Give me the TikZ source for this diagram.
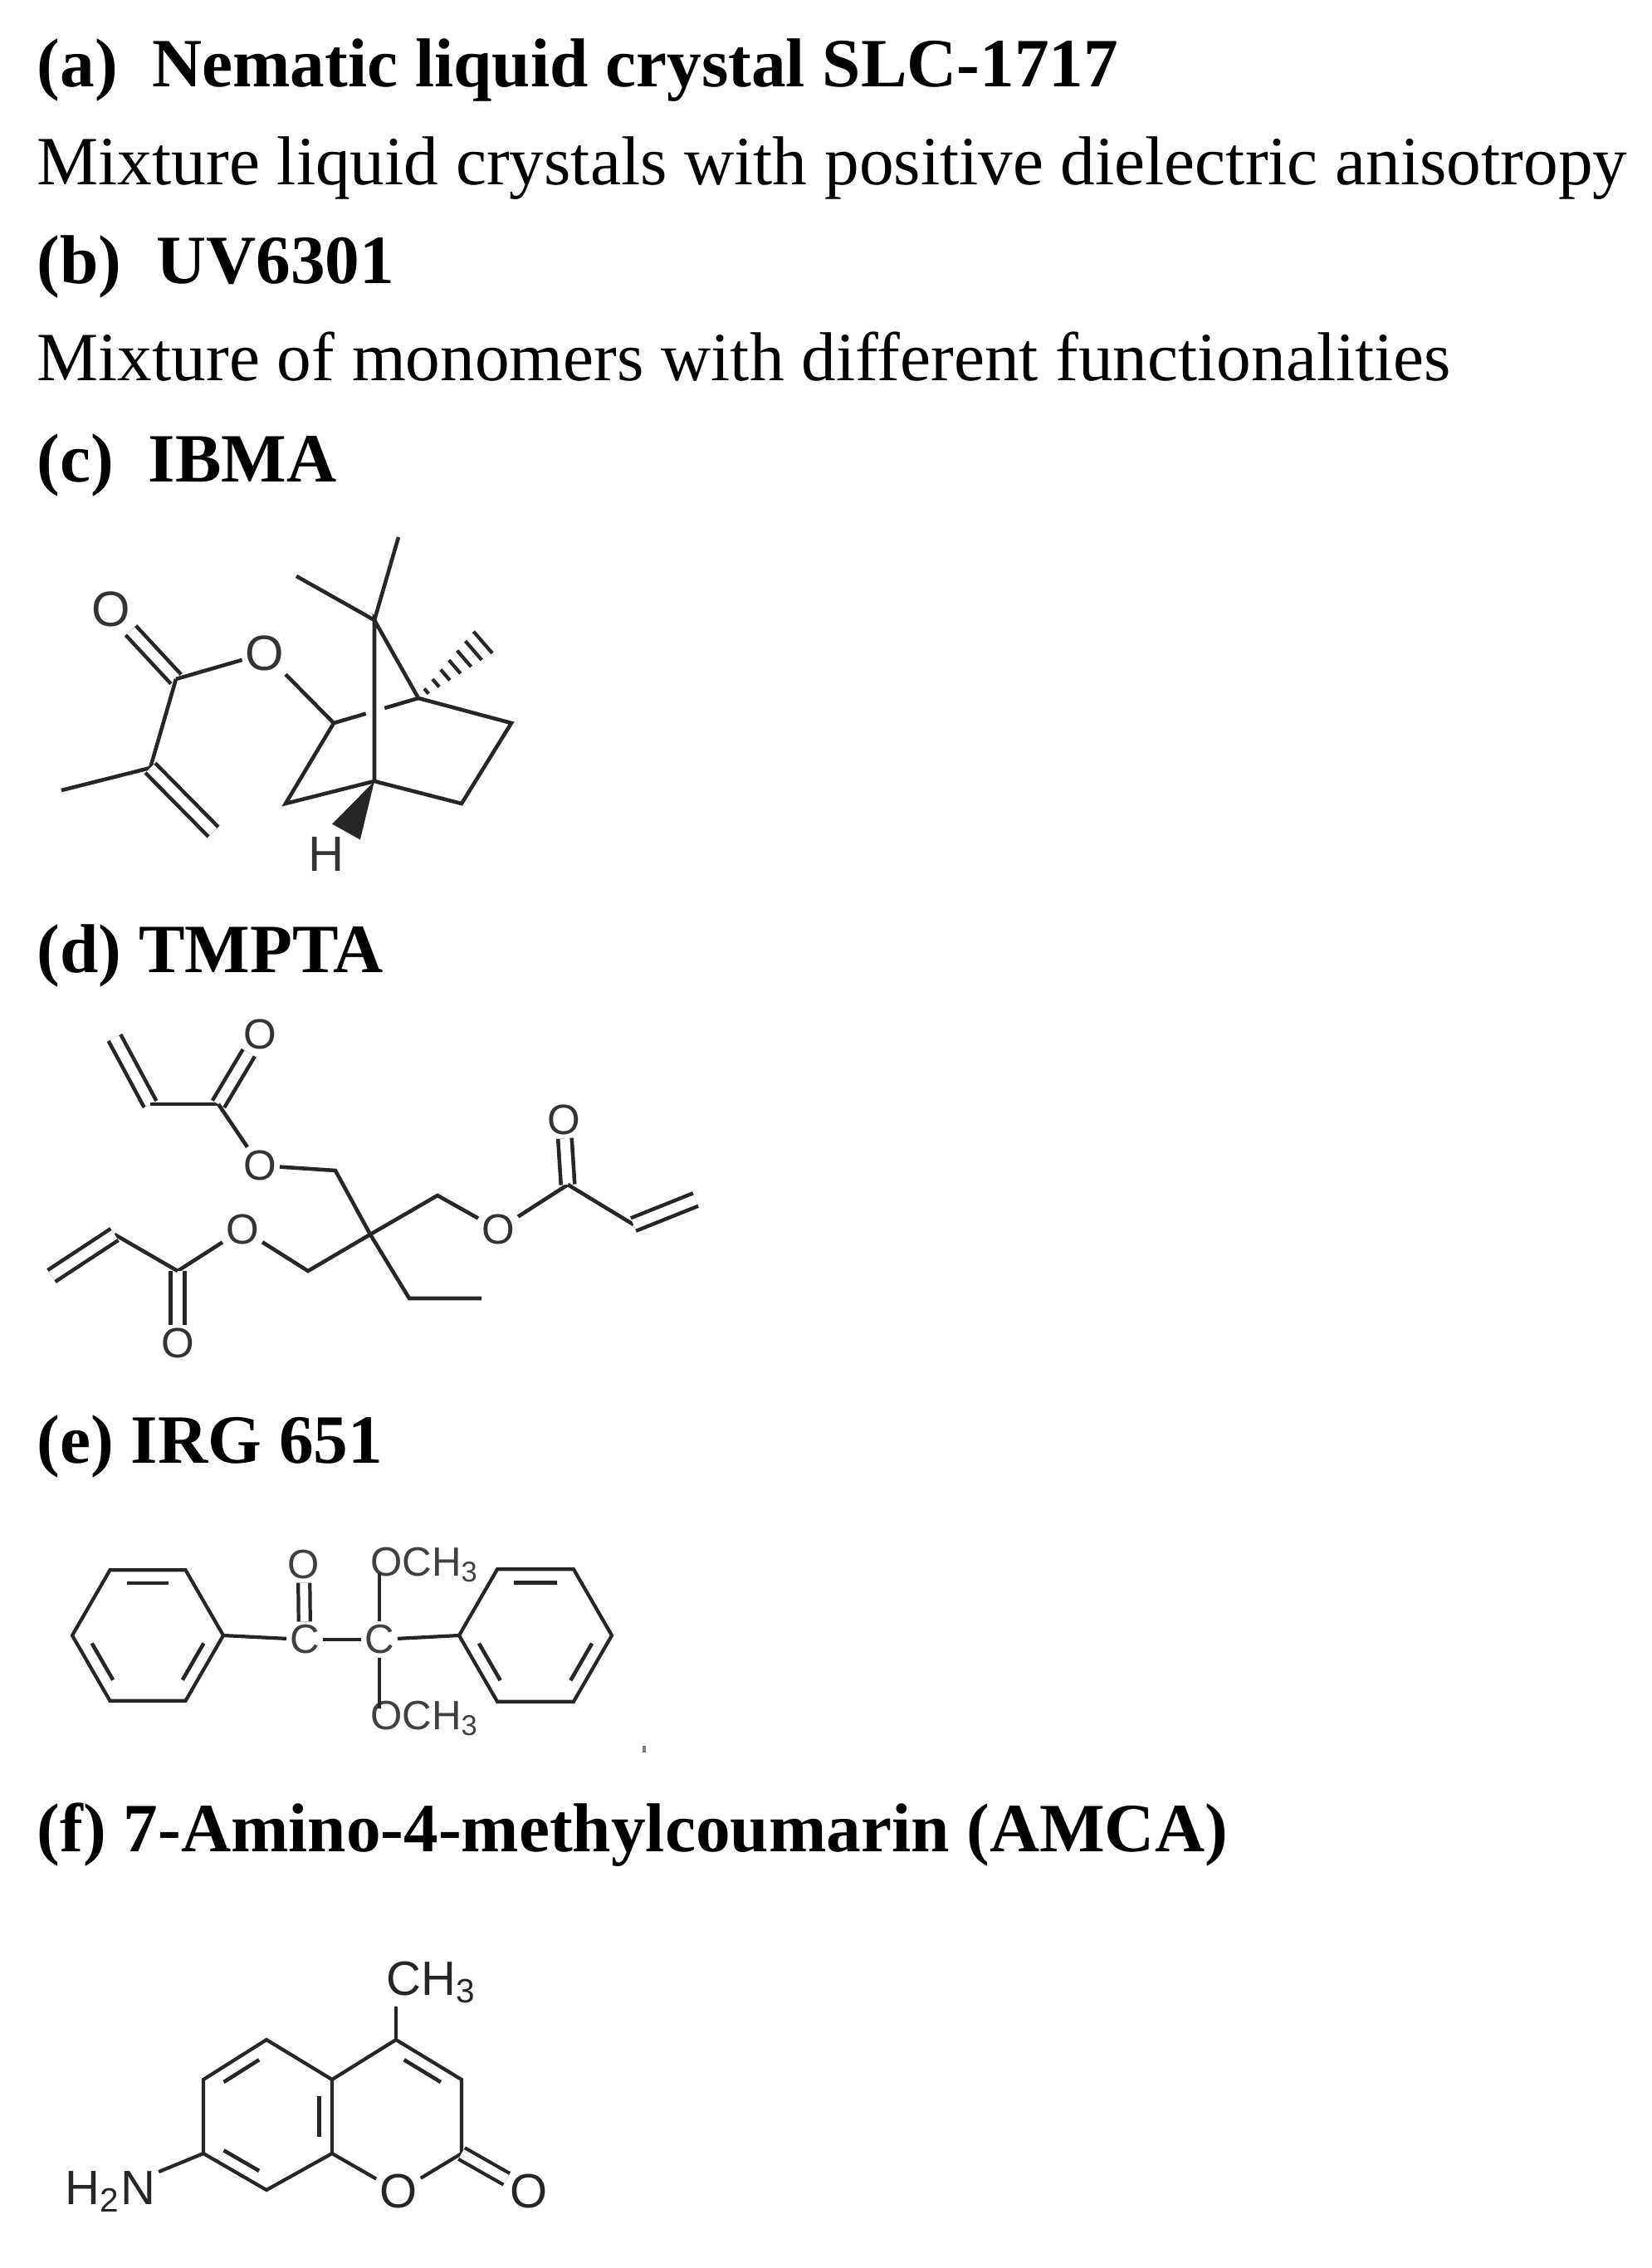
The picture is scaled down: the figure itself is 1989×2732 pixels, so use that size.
\documentclass[tikz,border=0pt]{standalone}
\usepackage{fontspec}
\setmainfont{Liberation Serif}
\setsansfont{Liberation Sans}
\usetikzlibrary{calc}
\tikzset{
  bond/.style={line width=1.3pt, draw=black!85},
  dbl/.style={bond, double=white, double distance=3.4pt},
  ttl/.style={anchor=base west, inner sep=0pt, font=\fontsize{23.7}{28}\selectfont\bfseries},
  txt/.style={anchor=base west, inner sep=0pt, font=\fontsize{23.7}{28}\selectfont},
  atomA/.style={inner sep=1pt, text=black!80, font=\sffamily\fontsize{17}{17}\selectfont},
  atomB/.style={inner sep=1pt, text=black!80, font=\sffamily\fontsize{14.5}{14.5}\selectfont},
  atomC/.style={inner sep=1pt, text=black!75, font=\sffamily\fontsize{14}{14}\selectfont},
  atomD/.style={inner sep=1pt, text=black!85, font=\sffamily\fontsize{16.5}{16.5}\selectfont}
}
\newcommand{\ib}[3]{\draw[bond] ($(#1)!0.15!(#2)!0.2!(#3)$) -- ($(#2)!0.15!(#1)!0.2!(#3)$);}
\begin{document}
\begin{tikzpicture}[x=0.1mm,y=-0.1mm]
\useasboundingbox (0,0) rectangle (1989,2732);
% titles
\node[ttl] (ta) at (44,105) {(a)\ \ Nematic liquid crystal SLC-1717};
\node[txt] (la) at (44,223) {Mixture liquid crystals with positive dielectric anisotropy};
\node[ttl] (tb) at (44,342) {(b)\ \ UV6301};
\node[txt] (lb) at (44,459) {Mixture of monomers with different functionalities};
\node[ttl] (tc) at (44,581) {(c)\ \ IBMA};
\node[ttl] (td) at (44,1171) {(d) TMPTA};
\node[ttl] (te) at (44,1762) {(e) IRG 651};
\node[ttl] (tf) at (44,2230) {(f) 7-Amino-4-methylcoumarin (AMCA)};

% ---------- IBMA ----------
\node[atomA] (iO1) at (134,734) {O};
\node[atomA] (iO2) at (319,787) {O};
\node[atomA] (iH) at (393,1029) {H};
\coordinate (iCc) at (212,818);
\coordinate (iCa) at (181,925);
\coordinate (iMe) at (74,952);
\coordinate (iCH2) at (257,1002);
\coordinate (iC2) at (402,871);
\coordinate (iC7) at (451,747);
\coordinate (iM1) at (480,647);
\coordinate (iM2) at (357,694);
\coordinate (iC1) at (504,841);
\coordinate (iMh) at (585,771);
\coordinate (iC4) at (451,941);
\coordinate (iC3) at (344,968);
\coordinate (iC6) at (616,871);
\coordinate (iC5) at (556,968);
\coordinate (iW) at (417,1002);
\draw[dbl] (iCc) -- (iO1);
\draw[bond] (iCc) -- (iO2);
\draw[bond] (iO2) -- (iC2);
\draw[bond] (iCc) -- (iCa);
\draw[bond] (iCa) -- (iMe);
\draw[dbl] (iCa) -- (iCH2);
\draw[bond] (iC2) -- (iC3) -- (iC4) -- (iC5) -- (iC6) -- (iC1) -- (iC7) -- (iC4);
\draw[bond] (iC7) -- (iM1);
\draw[bond] (iC7) -- (iM2);
\draw[bond] (iC2) -- ($(iC2)!0.38!(iC1)$);
\draw[bond] ($(iC2)!0.6!(iC1)$) -- (iC1);
\foreach \t in {0.12,0.26,...,1.0}
  \draw[line width=1.2pt, black!85] ($(iC1)!\t!(iMh)!{0.6pt+\t*4.5pt}!90:(iMh)$) -- ($(iC1)!\t!(iMh)!{0.6pt+\t*4.5pt}!-90:(iMh)$);
\fill[black!85] (iC4) -- ($(iW)!5.5pt!90:(iC4)$) -- ($(iW)!5.5pt!-90:(iC4)$) -- cycle;

% ---------- TMPTA ----------
\node[atomB] (tO1) at (313,1246) {O};
\node[atomB] (tO2) at (313,1404) {O};
\node[atomB] (tO3) at (600,1481) {O};
\node[atomB] (tO4) at (679,1349) {O};
\node[atomB] (tO5) at (292,1481) {O};
\node[atomB] (tO6) at (214,1618) {O};
\coordinate (tV1) at (138,1250);
\coordinate (tH1) at (181,1330);
\coordinate (tC1) at (263,1330);
\coordinate (tM1) at (404,1410);
\coordinate (tQ) at (446,1487);
\coordinate (tM2) at (527,1440);
\coordinate (tC2) at (684,1427);
\coordinate (tH2) at (763,1475);
\coordinate (tV2) at (838,1445);
\coordinate (tC3) at (214,1531);
\coordinate (tH3) at (138,1487);
\coordinate (tV3) at (62,1537);
\coordinate (tM3) at (371,1531);
\coordinate (tE1) at (493,1564);
\coordinate (tE2) at (580,1564);
\draw[dbl] (tV1) -- (tH1);
\draw[bond] (tH1) -- (tC1);
\draw[dbl] (tC1) -- (tO1);
\draw[bond] (tC1) -- (tO2);
\draw[bond] (tO2) -- (tM1) -- (tQ);
\draw[bond] (tQ) -- (tM2) -- (tO3);
\draw[bond] (tO3) -- (tC2);
\draw[dbl] (tC2) -- (tO4);
\draw[bond] (tC2) -- (tH2);
\draw[dbl] (tH2) -- (tV2);
\draw[bond] (tQ) -- (tM3) -- (tO5);
\draw[bond] (tO5) -- (tC3);
\draw[dbl] (tC3) -- (tO6);
\draw[bond] (tC3) -- (tH3);
\draw[dbl] (tH3) -- (tV3);
\draw[bond] (tQ) -- (tE1) -- (tE2);

% ---------- IRG 651 ----------
\coordinate (L) at (178,1970);
\foreach \i in {0,...,5} \coordinate (l\i) at ($(L)+(\i*60:91 and -91)$);
\coordinate (R) at (645,1970);
\foreach \i in {0,...,5} \coordinate (r\i) at ($(R)+(\i*60:92 and -92)$);
\draw[bond, line width=1.2pt] (l0) -- (l1) -- (l2) -- (l3) -- (l4) -- (l5) -- cycle;
\draw[bond, line width=1.2pt] (r0) -- (r1) -- (r2) -- (r3) -- (r4) -- (r5) -- cycle;
\ib{l1}{l2}{L} \ib{l3}{l4}{L} \ib{l5}{l0}{L}
\ib{r1}{r2}{R} \ib{r3}{r4}{R} \ib{r5}{r0}{R}
\node[atomC] (eC1) at (367,1975) {C};
\node[atomC] (eO) at (366,1885) {O};
\node[atomC] (eC2) at (457,1975) {C};
\node[atomC, anchor=west] (eOa) at (442,1885) {OCH\textsubscript{3}};
\node[atomC, anchor=west] (eOb) at (442,2070) {OCH\textsubscript{3}};
\draw[bond, line width=1.2pt] (l0) -- (eC1);
\draw[bond, line width=1.2pt] (eC1) -- (eC2);
\draw[bond, line width=1.2pt] (eC2) -- (r3);
\draw[bond, line width=1.2pt, double=white, double distance=2.8pt] (eC1) -- (eO);
\draw[bond, line width=1.2pt] (eC2) -- ($(eOa.west)+(15,10)$);
\draw[bond, line width=1.2pt] (eC2) -- ($(eOb.west)+(15,-12)$);
\coordinate (tick) at (776,2103);
\draw[line width=0.9pt, black!50] (tick) -- ++(0,8);

% ---------- AMCA ----------
\coordinate (B) at (322,2549);
\coordinate (P) at (478,2549);
\coordinate (aC5) at (321,2457);
\coordinate (aC6) at (245,2505);
\coordinate (aC7) at (245,2594);
\coordinate (aC8) at (321,2638);
\coordinate (aC8a) at (400,2594);
\coordinate (aC4a) at (400,2505);
\coordinate (aC4) at (477,2457);
\coordinate (aC3) at (556,2505);
\coordinate (aC2) at (556,2594);
\node[atomD] (aO1) at (480,2640) {O};
\node[atomD] (aO2) at (637,2640) {O};
\node[atomD] (aMe) at (520,2388) {CH\textsubscript{3}};
\node[atomD] (aN) at (133,2640) {H\textsubscript{2}N};
\draw[bond, line width=1.2pt] (aC5) -- (aC6) -- (aC7) -- (aC8) -- (aC8a) -- (aC4a) -- cycle;
\draw[bond, line width=1.2pt] (aC4a) -- (aC4) -- (aC3) -- (aC2);
\draw[bond, line width=1.2pt] (aC8a) -- (aO1);
\draw[bond, line width=1.2pt] (aO1) -- (aC2);
\draw[bond, line width=1.2pt, double=white, double distance=3.2pt] (aC2) -- (aO2);
\draw[bond, line width=1.2pt] (aC4) -- (aC4 |- aMe.south);
\draw[bond, line width=1.2pt] (aN) -- (aC7);
\ib{aC5}{aC6}{B} \ib{aC7}{aC8}{B} \ib{aC8a}{aC4a}{B} \ib{aC4}{aC3}{P}
\end{tikzpicture}
\end{document}
